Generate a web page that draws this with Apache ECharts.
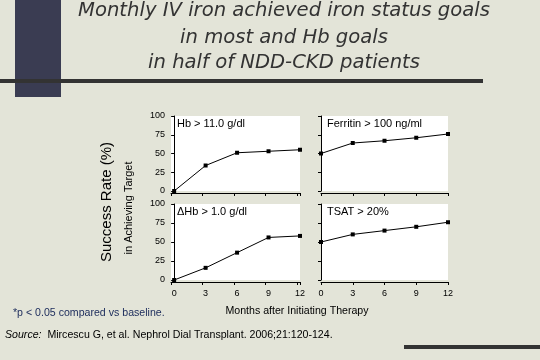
<!DOCTYPE html>
<html><head><meta charset="utf-8">
<script src="https://cdn.jsdelivr.net/npm/echarts@6/dist/echarts.min.js"></script>
<style>html,body{margin:0;padding:0;background:#e3e4d8;}#c{width:540px;height:360px;}</style>
</head><body><div id="c"></div>
<script>
var months = [0, 3, 6, 9, 12];
var hbValues = [0, 34, 51, 53, 55];
var ferritinValues = [50, 64, 67, 71, 76];
var dHbValues = [0, 16, 36, 56, 58];
var tsatValues = [50, 60, 65, 70, 76];
var panelLabels = ['Hb > 11.0 g/dl', 'Ferritin > 100 ng/ml', '\u0394Hb > 1.0 g/dl', 'TSAT > 20%'];
var yTicks = [0, 25, 50, 75, 100];
var titleLines = ['Monthly IV iron achieved iron status goals', 'in most and Hb goals', 'in half of NDD-CKD patients'];

var chart = echarts.init(document.getElementById('c'), null, {renderer: 'canvas'});
var lab = {fontFamily: 'Liberation Sans, Arial', fontSize: 9, color: '#000'};
var grids = [
  {left: 171, top: 116, width: 129, height: 75},
  {left: 321, top: 116, width: 127, height: 75},
  {left: 171, top: 204, width: 129, height: 76},
  {left: 321, top: 204, width: 127, height: 76}
];
grids.forEach(function(g){ g.show = true; g.backgroundColor = '#ffffff'; g.borderWidth = 0; });
var xAxes = [], yAxes = [], series = [];
var datas = [hbValues, ferritinValues, dHbValues, tsatValues];
for (var i = 0; i < 4; i++) {
  var left = (i % 2 === 0);
  var bottom = i >= 2;
  xAxes.push({
    type: 'value', gridIndex: i, min: left ? -0.3 : 0, max: 12, interval: 3,
    offset: 2,
    axisLine: {show: true, onZero: false, lineStyle: {color: '#000', width: 1}},
    axisTick: {show: true, length: 3, lineStyle: {color: '#000'}},
    axisLabel: {show: bottom, showMinLabel: true, customValues: months, margin: 7, ...lab},
    splitLine: {show: false}
  });
  yAxes.push({
    type: 'value', gridIndex: i, min: 0, max: 100, interval: 25,
    customValues: yTicks,
    offset: left ? 2 : 5,
    axisLine: {show: true, lineStyle: {color: '#000', width: 1}},
    axisTick: {show: true, inside: false, length: 3, customValues: yTicks, lineStyle: {color: '#000'}},
    axisLabel: {show: left, margin: 4, customValues: yTicks, ...lab},
    splitLine: {show: false}
  });
  series.push({
    type: 'line', xAxisIndex: i, yAxisIndex: i,
    data: months.map(function(m, k){ return [m, datas[i][k]]; }),
    symbol: 'rect', symbolSize: 4, showSymbol: true,
    lineStyle: {color: '#000', width: 1}, itemStyle: {color: '#000'},
    silent: true, animation: false
  });
}
var labelPos = [[177, 124], [327, 124], [177, 212], [327, 212]];
var graphics = [
  {type: 'rect', shape: {x: 15, y: 0, width: 46, height: 97}, style: {fill: '#3a3c52'}},
  {type: 'rect', shape: {x: 0, y: 79, width: 483, height: 4}, style: {fill: '#333333'}},
  {type: 'rect', shape: {x: 404, y: 345, width: 136, height: 4}, style: {fill: '#333333'}}
];
titleLines.forEach(function(t, k){
  graphics.push({type: 'text', x: 284, y: [11, 38, 63][k], style: {text: t, fontFamily: 'DejaVu Sans', fontStyle: 'italic', fontSize: 19.6, fill: '#333333', align: 'center', verticalAlign: 'middle'}});
});
panelLabels.forEach(function(t, k){
  graphics.push({type: 'text', x: labelPos[k][0], y: labelPos[k][1], style: {text: t, fontFamily: 'Liberation Sans, Arial', fontSize: 11, fill: '#000', align: 'left', verticalAlign: 'middle'}});
});
graphics.push({type: 'text', x: 107, y: 202, rotation: Math.PI / 2, style: {text: 'Success Rate (%)', fontFamily: 'Liberation Sans, Arial', fontSize: 15, fill: '#000', align: 'center', verticalAlign: 'middle'}});
graphics.push({type: 'text', x: 129, y: 208, rotation: Math.PI / 2, style: {text: 'in Achieving Target', fontFamily: 'Liberation Sans, Arial', fontSize: 11, fill: '#000', align: 'center', verticalAlign: 'middle'}});
graphics.push({type: 'text', x: 297, y: 311, style: {text: 'Months after Initiating Therapy', fontFamily: 'Liberation Sans, Arial', fontSize: 10.6, fill: '#000', align: 'center', verticalAlign: 'middle'}});
graphics.push({type: 'text', x: 13, y: 313, style: {text: '*p < 0.05 compared vs baseline.', fontFamily: 'Liberation Sans, Arial', fontSize: 10.6, fill: '#1a2a5a', align: 'left', verticalAlign: 'middle'}});
graphics.push({type: 'text', x: 5, y: 335, style: {rich: {i: {fontStyle: 'italic', fontFamily: 'Liberation Sans, Arial', fontSize: 10.6, fill: '#000'}, n: {fontFamily: 'Liberation Sans, Arial', fontSize: 10.6, fill: '#000'}}, text: '{i|Source:}{n|  Mircescu G, et al. Nephrol Dial Transplant. 2006;21:120-124.}', align: 'left', verticalAlign: 'middle'}});

chart.setOption({
  backgroundColor: '#e3e4d8',
  animation: false,
  grid: grids, xAxis: xAxes, yAxis: yAxes, series: series,
  graphic: graphics
});
</script></body></html>
